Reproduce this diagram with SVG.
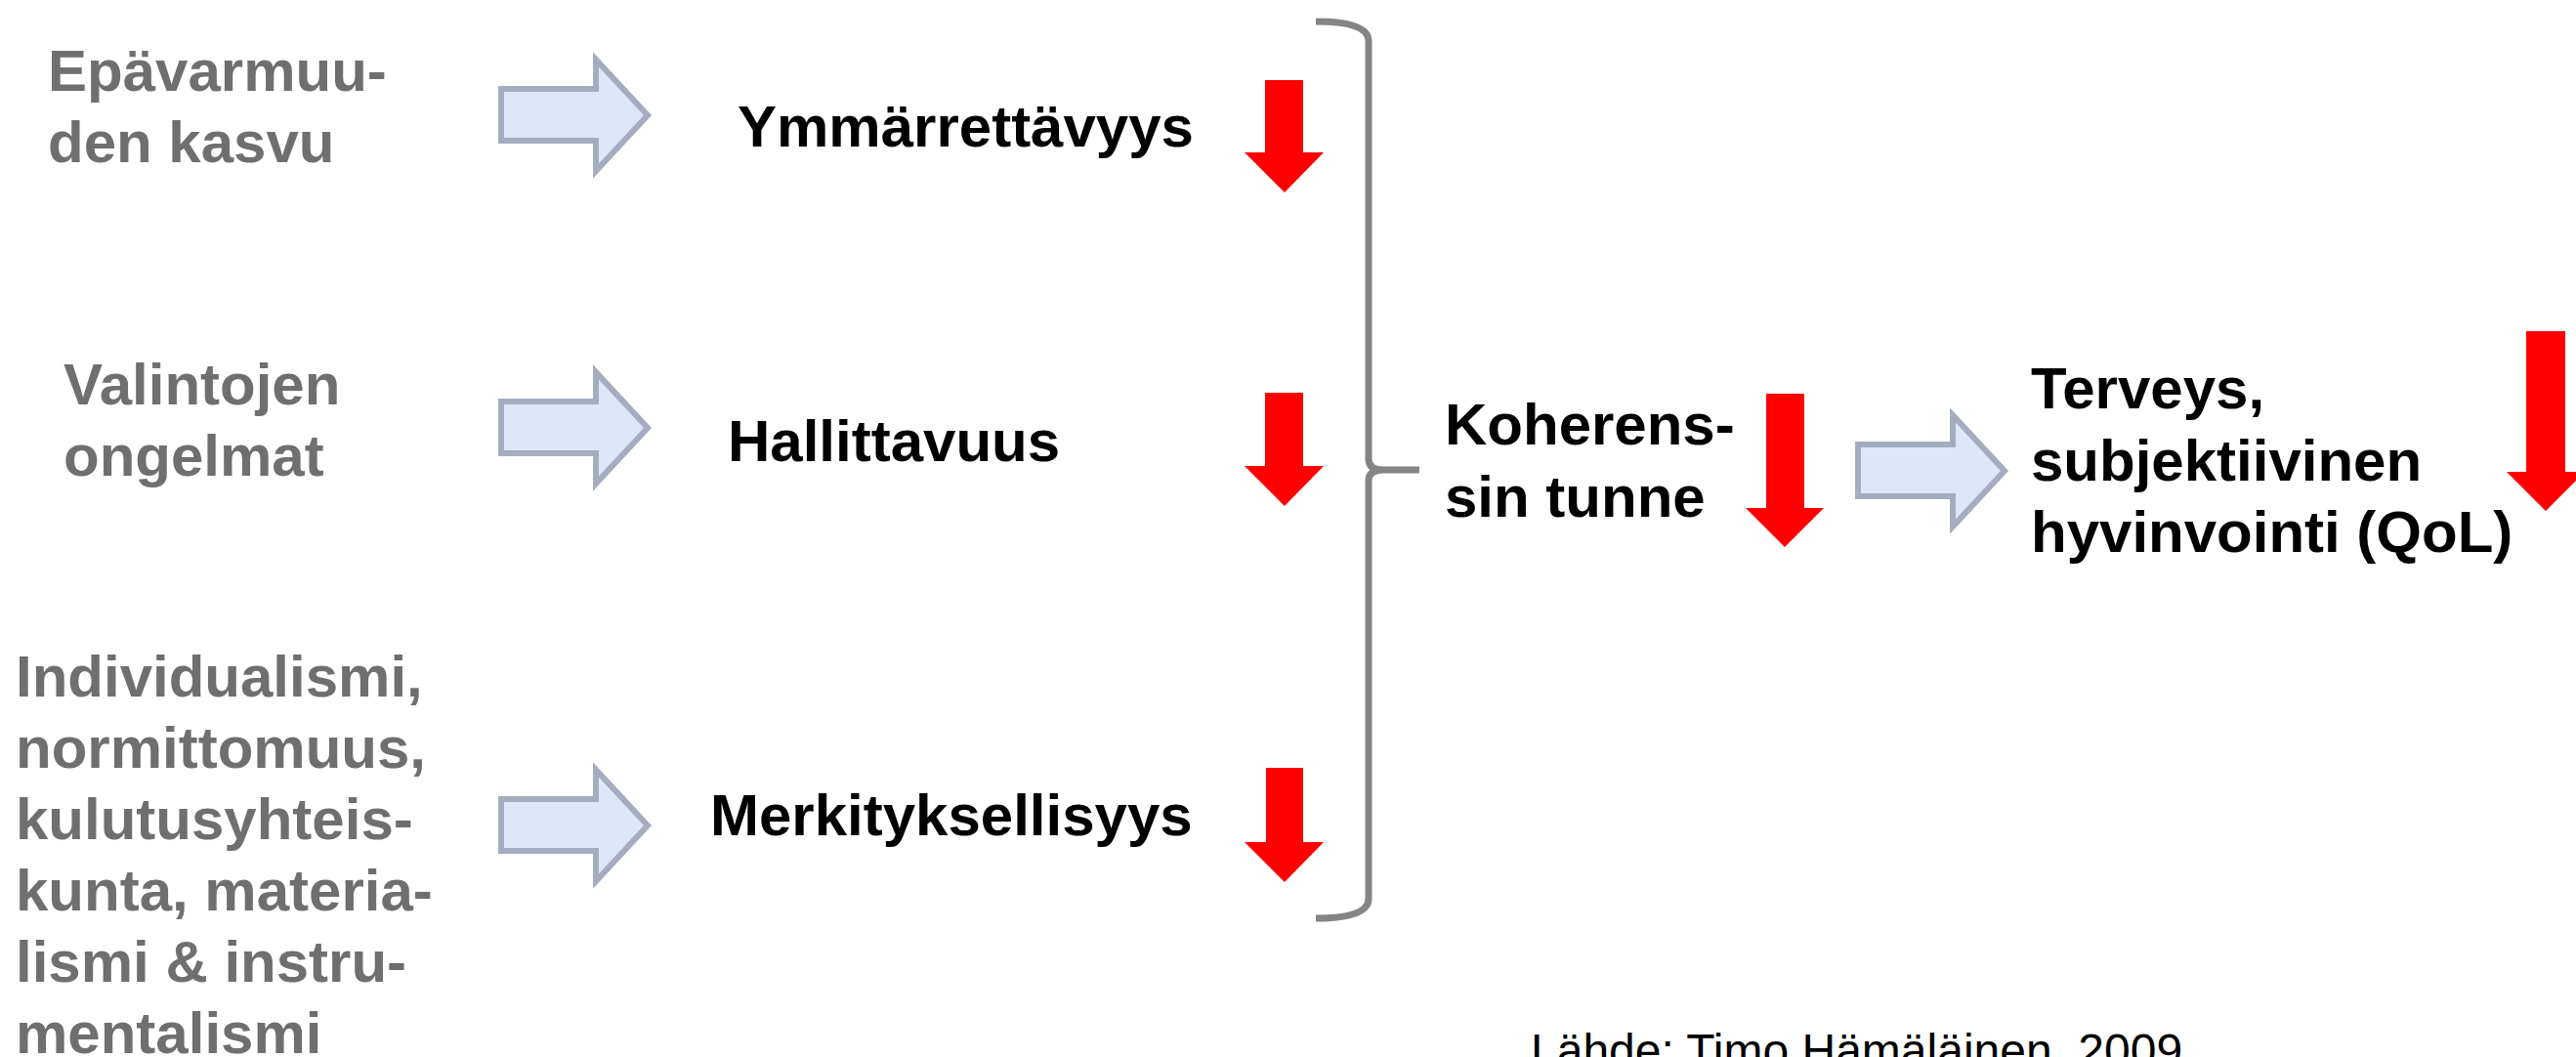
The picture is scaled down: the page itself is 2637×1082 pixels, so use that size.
<svg xmlns="http://www.w3.org/2000/svg" xmlns:xlink="http://www.w3.org/1999/xlink" width="2637" height="1082" viewBox="0 0 2637 1082">
<style>
.g{font-family:"Liberation Sans",Arial,Helvetica,sans-serif;font-weight:bold;font-size:60px;fill:#6f6f6f}
.b{font-family:"Liberation Sans",Arial,Helvetica,sans-serif;font-weight:bold;font-size:60px;fill:#000}
.src{font-family:"Liberation Sans",Arial,Helvetica,sans-serif;font-size:48px;fill:#000}
.red{fill:#ff0000}
.blue{fill:#dde7f9;stroke:#a4adbf;stroke-width:6}
.brace{fill:none;stroke:#858585;stroke-width:7;stroke-linecap:butt}
</style>
<defs>
<polygon id="blueArrow" class="blue" points="513,91 610,91 610,61 663,118 610,175 610,144 513,144"/>
</defs>
<rect width="2637" height="1082" fill="#fff"/>
<g id="connectors">
<use xlink:href="#blueArrow" href="#blueArrow"/>
<use xlink:href="#blueArrow" href="#blueArrow" transform="translate(0,320)"/>
<use xlink:href="#blueArrow" href="#blueArrow" transform="translate(0,727)"/>
<use xlink:href="#blueArrow" href="#blueArrow" transform="translate(1389,364)"/>
<path class="brace" d="M1347,22 Q1401,22 1401,42 V470 Q1401,481 1416,481 H1453 M1416,481 Q1401,481 1401,492 V920 Q1401,940 1347,940"/>
</g>
<g id="cause1">
<text class="g" x="49" y="93">Epävarmuu-</text>
<text class="g" x="49" y="166">den kasvu</text>
</g>
<g id="cause2">
<text class="g" x="65" y="414">Valintojen</text>
<text class="g" x="65" y="487">ongelmat</text>
</g>
<g id="cause3">
<text class="g" x="16" y="713">Individualismi,</text>
<text class="g" x="16" y="786">normittomuus,</text>
<text class="g" x="16" y="859">kulutusyhteis-</text>
<text class="g" x="16" y="932">kunta, materia-</text>
<text class="g" x="16" y="1005">lismi &amp; instru-</text>
<text class="g" x="16" y="1078">mentalismi</text>
</g>
<g id="ymmarrettavyys">
<text class="b" x="755" y="150">Ymmärrettävyys</text>
<polygon class="red" points="1295,82 1334,82 1334,156 1355,156 1315,197 1274,156 1295,156"/>
</g>
<g id="hallittavuus">
<text class="b" x="745" y="472">Hallittavuus</text>
<polygon class="red" points="1295,402 1334,402 1334,477 1355,477 1315,518 1274,477 1295,477"/>
</g>
<g id="merkityksellisyys">
<text class="b" x="727" y="855">Merkityksellisyys</text>
<polygon class="red" points="1296,786 1334,786 1334,862 1355,862 1315,903 1274,862 1296,862"/>
</g>
<g id="koherenssi">
<text class="b" x="1479" y="455">Koherens-</text>
<text class="b" x="1479" y="529">sin tunne</text>
<polygon class="red" points="1808,403 1847,403 1847,520 1867,520 1827,560 1787,520 1808,520"/>
</g>
<g id="terveys">
<text class="b" x="2079" y="418">Terveys,</text>
<text class="b" x="2079" y="492">subjektiivinen</text>
<text class="b" x="2079" y="565">hyvinvointi (QoL)</text>
<polygon class="red" points="2586,339 2626,339 2626,483 2646,483 2606,523 2566,483 2586,483"/>
</g>
<g id="source">
<text class="src" x="1567" y="1092">Lähde: Timo Hämäläinen, 2009</text>
</g>
</svg>
